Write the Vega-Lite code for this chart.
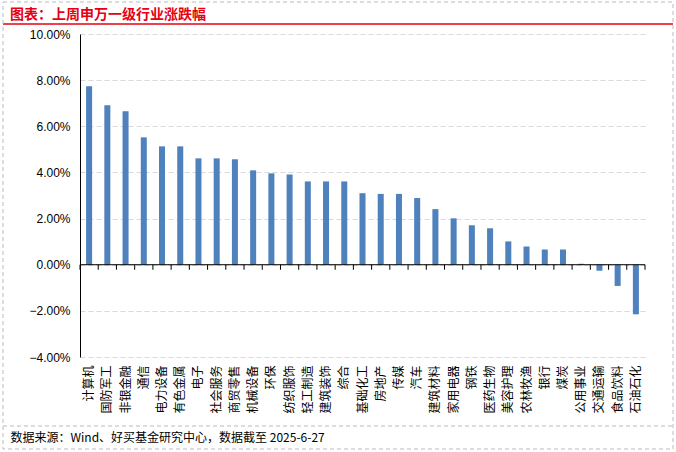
{
  "$schema": "https://vega.github.io/schema/vega-lite/v6.json",
  "autosize": {"type": "none"},
  "width": 565,
  "height": 323,
  "padding": {"left": 80, "top": 34, "right": 31, "bottom": 95},
  "background": "white",
  "title": {
    "text": "图表：上周申万一级行业涨跌幅",
    "anchor": "start",
    "frame": "group",
    "dx": -70,
    "dy": 48,
    "offset": 14,
    "baseline": "bottom",
    "font": "Noto Sans CJK SC",
    "fontSize": 14,
    "fontWeight": "bold",
    "color": "#E60012"
  },
  "config": {
    "view": {"stroke": null},
    "axis": {"labelFont": "Liberation Sans", "labelColor": "#000000"}
  },
  "data": {
    "values": [
      {"industry": "计算机", "change": 7.74},
      {"industry": "国防军工", "change": 6.91},
      {"industry": "非银金融", "change": 6.65},
      {"industry": "通信", "change": 5.52},
      {"industry": "电力设备", "change": 5.13},
      {"industry": "有色金属", "change": 5.13},
      {"industry": "电子", "change": 4.61},
      {"industry": "社会服务", "change": 4.61},
      {"industry": "商贸零售", "change": 4.57},
      {"industry": "机械设备", "change": 4.09},
      {"industry": "环保", "change": 3.96},
      {"industry": "纺织服饰", "change": 3.91},
      {"industry": "轻工制造", "change": 3.61},
      {"industry": "建筑装饰", "change": 3.61},
      {"industry": "综合", "change": 3.61},
      {"industry": "基础化工", "change": 3.1},
      {"industry": "房地产", "change": 3.07},
      {"industry": "传媒", "change": 3.07},
      {"industry": "汽车", "change": 2.89},
      {"industry": "建筑材料", "change": 2.41},
      {"industry": "家用电器", "change": 2.01},
      {"industry": "钢铁", "change": 1.71},
      {"industry": "医药生物", "change": 1.58},
      {"industry": "美容护理", "change": 1.01},
      {"industry": "农林牧渔", "change": 0.79},
      {"industry": "银行", "change": 0.66},
      {"industry": "煤炭", "change": 0.66},
      {"industry": "公用事业", "change": 0.04},
      {"industry": "交通运输", "change": -0.26},
      {"industry": "食品饮料", "change": -0.92},
      {"industry": "石油石化", "change": -2.15}
    ]
  },
  "encoding": {
    "x": {
      "field": "industry",
      "type": "nominal",
      "sort": null,
      "scale": {"paddingInner": 0, "paddingOuter": 0},
      "axis": {
        "orient": "bottom",
        "domain": false,
        "ticks": false,
        "labelAngle": -90,
        "labelPadding": 8,
        "labelFont": "Noto Sans CJK SC",
        "labelFontSize": 12,
        "labelColor": "#000000",
        "title": "数据来源：Wind、好买基金研究中心，数据截至 2025-6-27",
        "titleFont": "Noto Sans CJK SC",
        "titleFontSize": 12,
        "titleFontWeight": "normal",
        "titleColor": "#000000",
        "titleAnchor": "start",
        "titleAlign": "left",
        "titleBaseline": "middle",
        "titleX": -70,
        "titleY": 80
      }
    }
  },
  "layer": [
    {
      "mark": {"type": "bar", "color": "#4F81BD", "width": {"band": 0.33}},
      "encoding": {
        "y": {
          "field": "change",
          "type": "quantitative",
          "scale": {"domain": [-4, 10], "nice": false, "zero": false},
          "axis": {
            "values": [-4, -2, 0, 2, 4, 6, 8, 10],
            "labelExpr": "format(datum.value, '.2f') + '%'",
            "labelFontSize": 12,
            "labelPadding": 10,
            "ticks": false,
            "domain": true,
            "domainColor": "#000000",
            "domainWidth": 1,
            "grid": true,
            "gridColor": "#d9d9d9",
            "gridDash": [5, 3],
            "gridWidth": 1,
            "title": null
          }
        }
      }
    },
    {
      "mark": {"type": "rule", "color": "#000000", "strokeWidth": 1},
      "encoding": {
        "x": {"field": "industry", "type": "nominal", "sort": null, "bandPosition": 0},
        "y": {"datum": 0},
        "y2": {"datum": -0.22}
      }
    },
    {
      "transform": [{"filter": "datum.industry === '石油石化'"}],
      "mark": {"type": "rule", "color": "#000000", "strokeWidth": 1},
      "encoding": {
        "x": {"field": "industry", "type": "nominal", "sort": null, "bandPosition": 1},
        "y": {"datum": 0},
        "y2": {"datum": -0.22}
      }
    },
    {
      "data": {"values": [{}]},
      "mark": {"type": "rule", "color": "#000000", "strokeWidth": 1},
      "encoding": {
        "y": {"datum": 0},
        "x": {"value": 0},
        "x2": {"value": 565}
      }
    },
    {
      "data": {"values": [{}]},
      "mark": {"type": "rule", "color": "#E60012", "strokeWidth": 1.5, "clip": false},
      "encoding": {"x": {"value": -77}, "x2": {"value": 593}, "y": {"value": -10}}
    },
    {
      "data": {"values": [{}]},
      "mark": {"type": "rule", "stroke": "#bbbbbb", "strokeWidth": 1, "strokeDash": [4, 3], "clip": false},
      "encoding": {"x": {"value": -77}, "x2": {"value": 593}, "y": {"value": 392}}
    },
    {
      "data": {"values": [{}]},
      "mark": {"type": "rect", "fill": "transparent", "stroke": "#bbbbbb", "strokeWidth": 1, "strokeDash": [4, 3], "clip": false},
      "encoding": {"x": {"value": -77}, "x2": {"value": 593}, "y": {"value": -32}, "y2": {"value": 415}}
    }
  ]
}
